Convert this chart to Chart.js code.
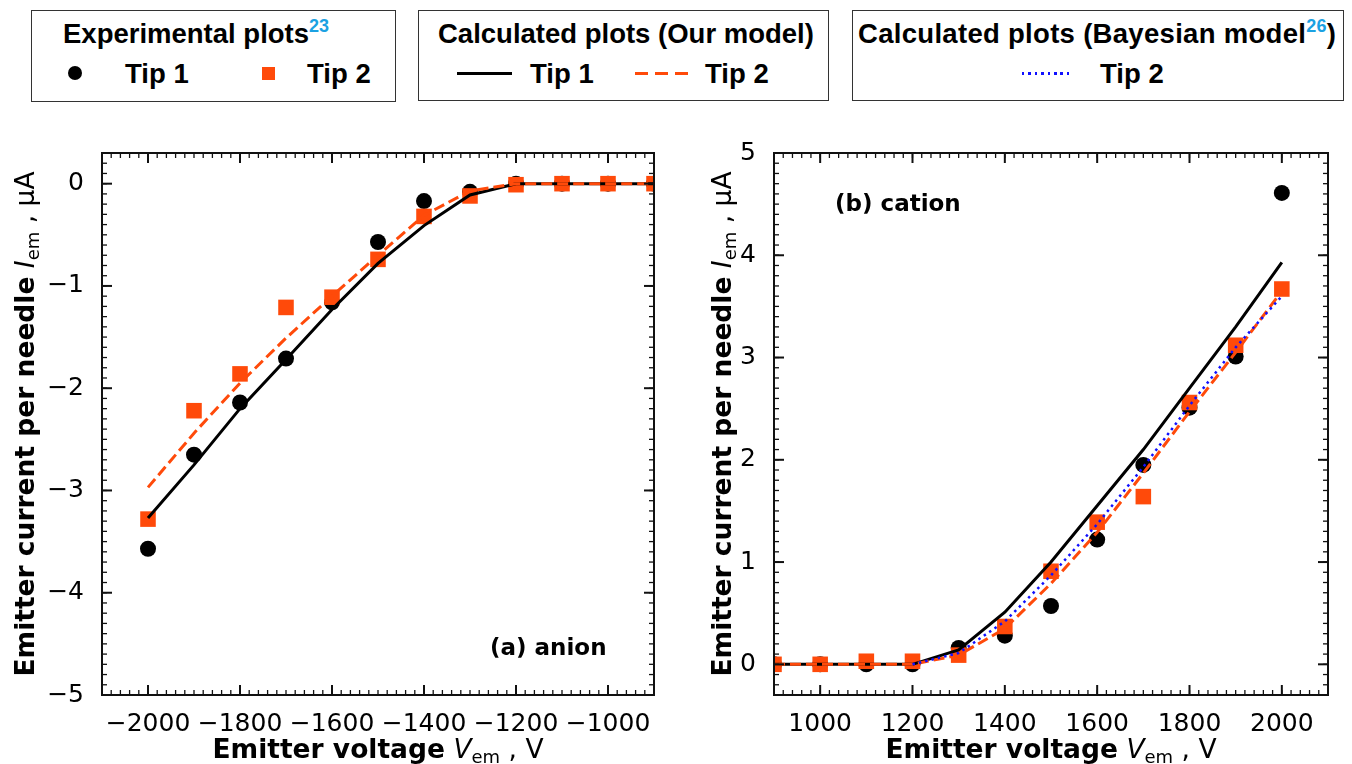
<!DOCTYPE html>
<html>
<head>
<meta charset="utf-8">
<script src="https://cdn.jsdelivr.net/npm/chart.js@4.4.1/dist/chart.umd.min.js"></script>
<style>
  body { margin: 0; background: #fff; }
  #page { position: relative; width: 1352px; height: 764px; overflow: hidden; background: #fff; }
  .box { position: absolute; border: 1.5px solid #333; box-sizing: border-box; }
  .leg { position: absolute; font: bold 27.5px "Liberation Sans", Arial, sans-serif; line-height: 27px; white-space: nowrap; color: #000; }
  .ref { position: relative; top: -11px; font-size: 18px; color: #1ba1e2; }
  .mark { position: absolute; }
  .axt { position: absolute; width: 600px; height: 26px; font: 26.5px "DejaVu Sans", sans-serif; line-height: 26px; text-align: center; white-space: nowrap; color: #000; }
  .axt b { font-weight: bold; }
  .axt i { font-style: italic; }
  .axt sub { font-size: 18px; vertical-align: -5px; line-height: 0; }
  .rot { transform: rotate(-90deg); }
  .tag { position: absolute; font: bold 23px "DejaVu Sans", sans-serif; line-height: 23px; white-space: nowrap; color: #000; }
  canvas { position: absolute; top: 120px; }
</style>
</head>
<body>
<div id="page">
  <!-- legend boxes -->
  <div class="box" style="left:31px;top:10px;width:365px;height:92px"></div>
  <div class="leg" style="left:63px;top:20px">Experimental plots<span class="ref">23</span></div>
  <div class="mark" style="left:68px;top:66px;width:14px;height:14px;border-radius:50%;background:#000"></div>
  <div class="leg" style="left:125px;top:60px">Tip 1</div>
  <div class="mark" style="left:262px;top:67px;width:13px;height:13px;background:#ff4a0a"></div>
  <div class="leg" style="left:307px;top:60px">Tip 2</div>

  <div class="box" style="left:418px;top:10px;width:411px;height:91px"></div>
  <div class="leg" style="left:438px;top:20px">Calculated plots (Our model)</div>
  <div class="mark" style="left:457px;top:72px;width:55px;height:3px;background:#000"></div>
  <div class="leg" style="left:530px;top:60px">Tip 1</div>
  <div class="mark" style="left:635px;top:72px;width:53px;height:3px;background:repeating-linear-gradient(90deg,#ff4a0a 0 13px,transparent 13px 20px)"></div>
  <div class="leg" style="left:705px;top:60px">Tip 2</div>

  <div class="box" style="left:852px;top:10px;width:492px;height:91px"></div>
  <div class="leg" style="left:858px;top:20px;letter-spacing:0.3px">Calculated plots (Bayesian model<span class="ref">26</span>)</div>
  <div class="mark" style="left:1022px;top:72px;width:51px;height:2.5px;background:repeating-linear-gradient(90deg,#1010ff 0 2.5px,transparent 2.5px 6.4px)"></div>
  <div class="leg" style="left:1100px;top:60px">Tip 2</div>

  <canvas id="anion" width="676" height="644" style="left:0"></canvas>
  <canvas id="cation" width="676" height="644" style="left:676px"></canvas>

  <div class="tag" style="left:490px;top:636px">(a) anion</div>
  <div class="tag" style="left:835px;top:192px">(b) cation</div>

  <div class="axt" style="left:78px;top:736px"><b>Emitter voltage</b> <i>V</i><sub>em</sub> , V</div>
  <div class="axt" style="left:751px;top:736px"><b>Emitter voltage</b> <i>V</i><sub>em</sub> , V</div>
  <div class="axt rot" style="left:-275px;top:411px"><b>Emitter current per needle</b> <i>I</i><sub>em</sub> , µA</div>
  <div class="axt rot" style="left:422px;top:411px"><b>Emitter current per needle</b> <i>I</i><sub>em</sub> , µA</div>
</div>

<script>
// anion emitter: negative voltages
const anionVoltage = [-2000, -1900, -1800, -1700, -1600, -1500, -1400, -1300, -1200, -1100, -1000, -900];
const anionTip1Measured = [-3.57, -2.65, -2.14, -1.71, -1.16, -0.57, -0.17, -0.08, 0, 0, 0, 0];
const anionTip2Measured = [-3.28, -2.22, -1.86, -1.21, -1.11, -0.74, -0.32, -0.12, -0.01, 0, 0, 0];
const anionTip1Model = [-3.27, -2.75, -2.2, -1.72, -1.23, -0.78, -0.41, -0.11, 0, 0, 0, 0];
const anionTip2Model = [-2.97, -2.44, -1.95, -1.51, -1.1, -0.7, -0.31, -0.07, 0, 0, 0, 0];

// cation emitter
const cationVoltage = [900, 1000, 1100, 1200, 1300, 1400, 1500, 1600, 1700, 1800, 1900, 2000];
const cationTip1Measured = [0, 0, 0, 0, 0.16, 0.28, 0.57, 1.22, 1.95, 2.51, 3.01, 4.61];
const cationTip2Measured = [0, 0, 0.03, 0.03, 0.09, 0.37, 0.91, 1.39, 1.64, 2.56, 3.12, 3.67];
const cationTip1Model = [0, 0, 0, 0, 0.14, 0.51, 1.0, 1.55, 2.1, 2.7, 3.3, 3.93];
const cationTip2Model = [0, 0, 0, 0, 0.09, 0.35, 0.79, 1.29, 1.87, 2.47, 3.05, 3.65];
const bayesVoltage = [1200, 1300, 1400, 1500, 1600, 1700, 1800, 1900, 2000];
const cationTip2Bayes = [0, 0.11, 0.42, 0.87, 1.37, 1.93, 2.53, 3.1, 3.6];

const anionTicksX = [-2000, -1800, -1600, -1400, -1200, -1000];
const anionTicksY = [0, -1, -2, -3, -4, -5];
const cationTicksX = [1000, 1200, 1400, 1600, 1800, 2000];
const cationTicksY = [0, 1, 2, 3, 4, 5];

const ORANGE = '#ff4a0a';
const tickFont = { family: 'DejaVu Sans', size: 25 };
const fmt = v => (v < 0 ? '\u2212' + Math.abs(v) : String(v));
const pts = (xs, ys) => xs.map((x, i) => ({ x, y: ys[i] }));

// inward ticks on all four sides plus the closed frame
const frameTicks = {
  id: 'frameTicks',
  afterDatasetsDraw(chart, args, opts) {
    const { ctx, chartArea: a, scales: { x, y } } = chart;
    ctx.save();
    ctx.strokeStyle = '#111';
    const seg = (x1, y1, x2, y2) => { ctx.beginPath(); ctx.moveTo(x1, y1); ctx.lineTo(x2, y2); ctx.stroke(); };
    const xTick = (v, len) => {
      const px = x.getPixelForValue(v);
      seg(px, a.bottom, px, a.bottom - len);
      seg(px, a.top, px, a.top + len);
    };
    const yTick = (v, len) => {
      const py = y.getPixelForValue(v);
      seg(a.left, py, a.left + len, py);
      seg(a.right, py, a.right - len, py);
    };
    ctx.lineWidth = 1.3;
    for (let n = Math.ceil(x.min / opts.minorX); n * opts.minorX <= x.max; n++) xTick(n * opts.minorX, 5);
    for (let n = Math.ceil(y.min / opts.minorY - 1e-9); n * opts.minorY <= y.max + 1e-9; n++) yTick(n * opts.minorY, 5);
    ctx.lineWidth = 2;
    x.ticks.forEach(t => xTick(t.value, 10));
    y.ticks.forEach(t => yTick(t.value, 10));
    ctx.strokeRect(a.left, a.top, a.width, a.height);
    ctx.restore();
  }
};

function panel(id, cfg) {
  const datasets = [
    { data: pts(cfg.xs, cfg.tip1Model), showLine: true, borderColor: '#000', borderWidth: 3, pointRadius: 0, order: 3 },
    { data: pts(cfg.xs, cfg.tip2Model), showLine: true, borderColor: ORANGE, borderWidth: 3, borderDash: [11, 5], pointRadius: 0, order: 2 },
    { data: pts(cfg.xs, cfg.tip1Measured), pointStyle: 'circle', pointRadius: 8, backgroundColor: '#000', borderWidth: 0, order: 11 },
    { data: pts(cfg.xs, cfg.tip2Measured), pointStyle: 'rect', pointRadius: 11, backgroundColor: ORANGE, borderWidth: 0, order: 10 }
  ];
  if (cfg.bayes) {
    datasets.push({ data: pts(cfg.bayes.xs, cfg.bayes.ys), showLine: true, borderColor: '#1010ff', borderWidth: 2.5, borderDash: [2.5, 4], pointRadius: 0, order: 1 });
  }
  return new Chart(document.getElementById(id), {
    type: 'scatter',
    data: { datasets },
    plugins: [frameTicks],
    options: {
      responsive: false,
      animation: false,
      events: [],
      layout: { padding: { top: 33, right: cfg.padRight, bottom: 0, left: 0 } },
      plugins: {
        legend: { display: false },
        tooltip: { enabled: false },
        frameTicks: { minorX: 20, minorY: 0.1 }
      },
      scales: {
        x: {
          type: 'linear', min: cfg.xMin, max: cfg.xMax,
          grid: { display: false }, border: { display: false },
          afterBuildTicks: s => { s.ticks = cfg.ticksX.map(v => ({ value: v })); },
          afterFit: s => { s.height = 69; },
          ticks: { padding: 6, color: '#000', font: tickFont, maxRotation: 0, autoSkip: false, callback: fmt }
        },
        y: {
          type: 'linear', min: cfg.yMin, max: cfg.yMax,
          grid: { display: false }, border: { display: false },
          afterBuildTicks: s => { s.ticks = cfg.ticksY.map(v => ({ value: v })); },
          afterFit: s => { s.width = cfg.axisWidth; },
          ticks: { padding: 10, color: '#000', font: tickFont, autoSkip: false, callback: fmt }
        }
      }
    }
  });
}

panel('anion', {
  xs: anionVoltage,
  tip1Measured: anionTip1Measured, tip2Measured: anionTip2Measured,
  tip1Model: anionTip1Model, tip2Model: anionTip2Model,
  xMin: -2100, xMax: -900, yMin: -5, yMax: 0.3,
  ticksX: anionTicksX, ticksY: anionTicksY,
  axisWidth: 102, padRight: 22
});

panel('cation', {
  xs: cationVoltage,
  tip1Measured: cationTip1Measured, tip2Measured: cationTip2Measured,
  tip1Model: cationTip1Model, tip2Model: cationTip2Model,
  bayes: { xs: bayesVoltage, ys: cationTip2Bayes },
  xMin: 900, xMax: 2100, yMin: -0.3, yMax: 5,
  ticksX: cationTicksX, ticksY: cationTicksY,
  axisWidth: 98, padRight: 24
});
</script>
</body>
</html>
